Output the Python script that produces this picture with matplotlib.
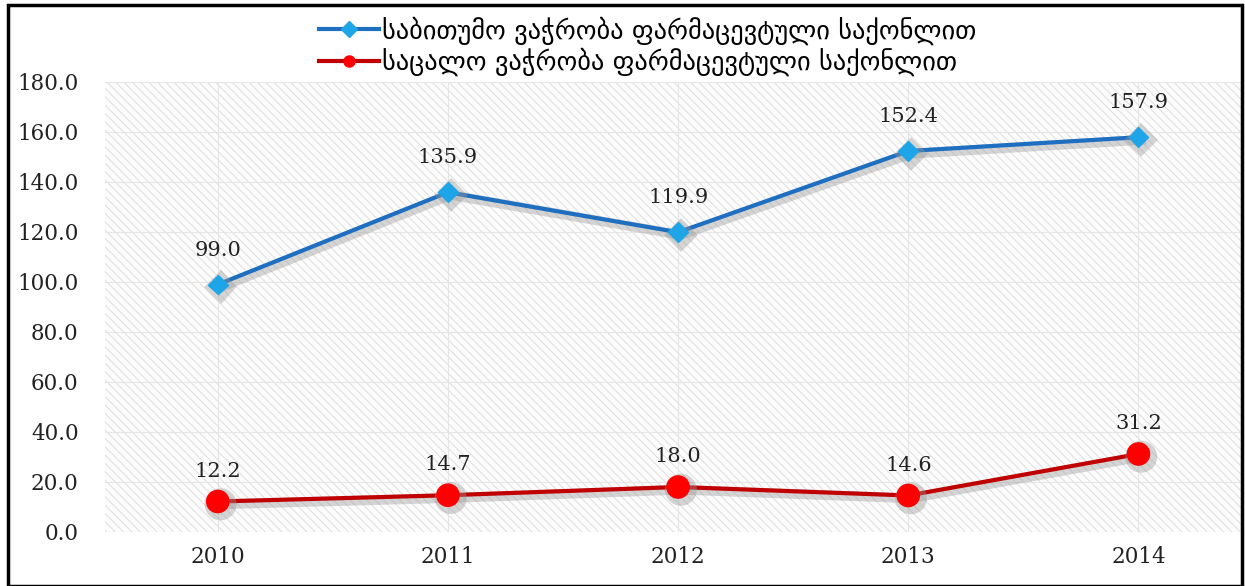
import matplotlib
matplotlib.use("Agg")
import matplotlib.pyplot as plt
import matplotlib.patheffects as pe
from matplotlib.patches import Rectangle

years = ["2010", "2011", "2012", "2013", "2014"]
wholesale = [99.0, 135.9, 119.9, 152.4, 157.9]
retail = [12.2, 14.7, 18.0, 14.6, 31.2]
wholesale_name = "საბითუმო ვაჭრობა ფარმაცევტული საქონლით"
retail_name = "საცალო ვაჭრობა ფარმაცევტული საქონლით"
yticks = [0, 20, 40, 60, 80, 100, 120, 140, 160, 180]

plt.rcParams["hatch.linewidth"] = 0.7

W, H = 1245, 586
fig = plt.figure(figsize=(W / 100, H / 100), dpi=100)
ax = fig.add_axes([105 / W, 1 - 532 / H, (1242 - 105) / W, (532 - 82) / H])

# hatched plot background
ax.set_facecolor("#fcfcfc")
ax.add_patch(Rectangle((0, 0), 1, 1, transform=ax.transAxes, facecolor="none",
                       edgecolor="#dedede", hatch="\\\\\\\\", linewidth=0, zorder=0))

x = list(range(len(years)))
ax.set_xlim(-0.49, 4.45)
ax.set_ylim(0, 180)
ax.set_yticks(yticks)
ax.set_yticklabels([f"{v:.1f}" for v in yticks])
ax.set_xticks(x)
ax.set_xticklabels(years)
ax.grid(True, color="#e6e6e6", linewidth=0.8, zorder=0.5)
for s in ax.spines.values():
    s.set_visible(False)
ax.tick_params(length=0, labelsize=15.5, colors="#222222", pad=10)
ax.tick_params(axis="y", pad=19)
for lab in ax.get_xticklabels() + ax.get_yticklabels():
    lab.set_family("DejaVu Serif")

shadow = [pe.SimpleLineShadow(offset=(2, -2), shadow_color="#999999", alpha=0.4, linewidth=7),
          pe.Normal()]
ax.plot(x, wholesale, color="#1f6fc0", linewidth=3, marker="D", markersize=10,
        markerfacecolor="#1ea5e8", markeredgecolor="#1ea5e8", zorder=3,
        path_effects=shadow, label=wholesale_name)
ax.plot(x, retail, color="#c00000", linewidth=3, marker="o", markersize=16,
        markerfacecolor="#ff0000", markeredgecolor="#ff0000", zorder=3,
        path_effects=shadow, label=retail_name)

for xi, v in zip(x, wholesale):
    ax.annotate(f"{v:.1f}", (xi, v), xytext=(0, 18), textcoords="offset points",
                ha="center", va="bottom", fontsize=15, family="DejaVu Serif", color="#222222")
for xi, v in zip(x, retail):
    ax.annotate(f"{v:.1f}", (xi, v), xytext=(0, 15), textcoords="offset points",
                ha="center", va="bottom", fontsize=15, family="DejaVu Serif", color="#222222")

leg = fig.legend(loc="upper center", bbox_to_anchor=(0.52, 0.99), ncol=1, frameon=False,
                 fontsize=19, handlelength=2.3, handletextpad=0.1, labelspacing=0.1,
                 borderaxespad=0)
for h in leg.legend_handles:
    h.set_path_effects([])
    h.set_markersize(8)

# outer frame
fig.patches.append(Rectangle((8 / W, 0), (1242 - 8) / W, 1 - 5 / H, transform=fig.transFigure,
                             fill=False, edgecolor="black", linewidth=2.5))

fig.savefig("out.png", dpi=100)
